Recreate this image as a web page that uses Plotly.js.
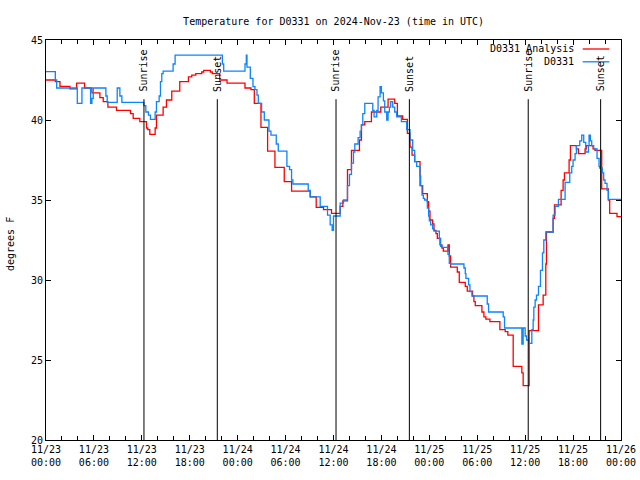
<!DOCTYPE html>
<html>
<head>
<meta charset="utf-8">
<script src="https://cdn.plot.ly/plotly-3.0.1.min.js"></script>
<style>html,body{margin:0;padding:0;background:#fff;}#chart{width:640px;height:480px;}</style>
</head>
<body>
<div id="chart"></div>
<script>
// ---- Data ----
var analysisName = "D0331 Analysis";
var obsName = "D0331";

var analysisTimes = [
"2024-11-23 00:00","2024-11-23 01:10","2024-11-23 01:45","2024-11-23 03:00","2024-11-23 03:50",
"2024-11-23 04:50","2024-11-23 05:45","2024-11-23 06:45","2024-11-23 07:10","2024-11-23 07:45",
"2024-11-23 08:50","2024-11-23 10:35","2024-11-23 10:55","2024-11-23 11:45","2024-11-23 12:35",
"2024-11-23 12:45","2024-11-23 13:00","2024-11-23 13:40","2024-11-23 13:50","2024-11-23 14:40",
"2024-11-23 15:05","2024-11-23 15:45","2024-11-23 16:45","2024-11-23 17:50","2024-11-23 18:15",
"2024-11-23 18:45","2024-11-23 19:30","2024-11-23 19:45","2024-11-23 20:35","2024-11-23 20:50",
"2024-11-23 21:45","2024-11-23 22:40","2024-11-24 00:55","2024-11-24 01:40","2024-11-24 02:05",
"2024-11-24 02:55","2024-11-24 03:45","2024-11-24 04:40","2024-11-24 05:50","2024-11-24 06:45",
"2024-11-24 09:05","2024-11-24 09:50","2024-11-24 10:45","2024-11-24 11:45","2024-11-24 12:50",
"2024-11-24 13:10","2024-11-24 13:45","2024-11-24 14:15","2024-11-24 15:15","2024-11-24 15:30",
"2024-11-24 15:55","2024-11-24 16:45","2024-11-24 17:55","2024-11-24 18:50","2024-11-24 19:40",
"2024-11-24 20:00","2024-11-24 20:40","2024-11-24 21:15","2024-11-24 21:35","2024-11-24 21:50",
"2024-11-24 22:10","2024-11-24 22:50","2024-11-24 23:10","2024-11-24 23:45","2024-11-24 23:55",
"2024-11-25 00:05","2024-11-25 00:25","2024-11-25 00:35","2024-11-25 00:50","2024-11-25 01:00",
"2024-11-25 01:20","2024-11-25 01:35","2024-11-25 01:45","2024-11-25 02:20","2024-11-25 02:30",
"2024-11-25 02:40","2024-11-25 03:30","2024-11-25 03:45","2024-11-25 04:30","2024-11-25 04:45",
"2024-11-25 05:25","2024-11-25 05:35","2024-11-25 05:45","2024-11-25 06:35","2024-11-25 06:50",
"2024-11-25 07:05","2024-11-25 07:35","2024-11-25 08:50","2024-11-25 09:30","2024-11-25 09:50",
"2024-11-25 10:30","2024-11-25 11:35","2024-11-25 11:45","2024-11-25 12:30","2024-11-25 13:40",
"2024-11-25 14:15","2024-11-25 14:35","2024-11-25 14:40","2024-11-25 15:30","2024-11-25 15:40",
"2024-11-25 16:30","2024-11-25 16:45","2024-11-25 16:55","2024-11-25 17:30","2024-11-25 17:40",
"2024-11-25 18:25","2024-11-25 18:40","2024-11-25 19:30","2024-11-25 19:40","2024-11-25 20:30",
"2024-11-25 20:45","2024-11-25 21:35","2024-11-25 22:25","2024-11-25 22:35","2024-11-25 23:30",
"2024-11-26 00:00"
];
var analysisTemps = [
42.5,42.4,42.1,41.95,42.3,
42.0,41.7,41.4,41.15,40.8,
40.6,40.4,40.1,39.9,39.5,
39.4,39.1,39.5,40.3,40.8,
41.25,41.8,42.4,42.7,42.8,
42.9,43.0,43.1,43.0,42.9,
42.5,42.3,42.0,41.9,41.04,
39.54,38.06,37.04,36.15,35.56,
35.2,34.54,34.4,34.17,34.6,
34.94,36.9,38.1,38.75,39.7,
39.9,40.5,40.8,41.3,41.04,
40.25,40.04,39.17,38.3,37.8,
37.4,35.9,35.4,34.9,34.3,
33.75,33.5,33.1,32.9,32.6,
32.2,32.0,31.8,32.2,31.5,
30.8,30.5,29.85,29.6,29.3,
29.0,28.65,28.4,28.0,27.7,
27.56,27.4,26.9,26.77,26.56,
24.6,24.2,23.4,26.83,28.44,
29.06,31.0,33.0,33.85,34.7,
35.6,36.25,36.7,37.5,38.4,
38.2,37.9,38.2,38.4,38.2,
38.1,35.7,35.0,34.17,33.96,
33.96
];

var obsTimes = [
"2024-11-23 00:00","2024-11-23 01:10","2024-11-23 01:20","2024-11-23 03:55","2024-11-23 04:30",
"2024-11-23 05:35","2024-11-23 05:45","2024-11-23 05:55","2024-11-23 07:30","2024-11-23 07:40",
"2024-11-23 08:55","2024-11-23 09:15","2024-11-23 09:30","2024-11-23 12:15","2024-11-23 12:30",
"2024-11-23 12:50","2024-11-23 13:05","2024-11-23 13:40","2024-11-23 13:50","2024-11-23 14:10",
"2024-11-23 14:20","2024-11-23 14:30","2024-11-23 14:40","2024-11-23 15:55","2024-11-23 16:10",
"2024-11-23 22:05","2024-11-23 22:15","2024-11-24 00:55","2024-11-24 01:05","2024-11-24 01:10",
"2024-11-24 01:35","2024-11-24 01:55","2024-11-24 02:10","2024-11-24 02:25","2024-11-24 02:35",
"2024-11-24 03:00","2024-11-24 03:20","2024-11-24 03:55","2024-11-24 04:10","2024-11-24 04:50",
"2024-11-24 05:05","2024-11-24 06:10","2024-11-24 06:30","2024-11-24 06:45","2024-11-24 06:55",
"2024-11-24 08:50","2024-11-24 09:05","2024-11-24 10:20","2024-11-24 11:15","2024-11-24 11:35",
"2024-11-24 11:50","2024-11-24 12:00","2024-11-24 12:50","2024-11-24 13:15","2024-11-24 13:45",
"2024-11-24 14:00","2024-11-24 14:15","2024-11-24 14:30","2024-11-24 14:40","2024-11-24 15:05",
"2024-11-24 15:20","2024-11-24 15:30","2024-11-24 15:40","2024-11-24 15:55","2024-11-24 16:55",
"2024-11-24 17:05","2024-11-24 17:25","2024-11-24 17:35","2024-11-24 17:50","2024-11-24 18:00",
"2024-11-24 18:15","2024-11-24 18:25","2024-11-24 18:40","2024-11-24 18:50","2024-11-24 19:00",
"2024-11-24 19:10","2024-11-24 19:25","2024-11-24 19:40","2024-11-24 19:55","2024-11-24 20:30",
"2024-11-24 21:10","2024-11-24 21:35","2024-11-24 21:55","2024-11-24 22:10","2024-11-24 22:25",
"2024-11-24 22:50","2024-11-24 22:55","2024-11-24 23:05","2024-11-24 23:15","2024-11-24 23:25",
"2024-11-24 23:45","2024-11-24 23:55","2024-11-25 00:00","2024-11-25 00:10","2024-11-25 00:25",
"2024-11-25 00:35","2024-11-25 01:15","2024-11-25 01:25","2024-11-25 01:35","2024-11-25 02:20",
"2024-11-25 02:30","2024-11-25 02:40","2024-11-25 04:20","2024-11-25 04:30","2024-11-25 04:35",
"2024-11-25 04:55","2024-11-25 05:05","2024-11-25 05:20","2024-11-25 07:15","2024-11-25 07:25",
"2024-11-25 09:15","2024-11-25 09:25","2024-11-25 11:35","2024-11-25 11:45","2024-11-25 12:00",
"2024-11-25 12:10","2024-11-25 12:30","2024-11-25 12:50","2024-11-25 13:00","2024-11-25 13:05",
"2024-11-25 13:15","2024-11-25 13:25","2024-11-25 13:40","2024-11-25 13:55","2024-11-25 14:10",
"2024-11-25 14:20","2024-11-25 14:35","2024-11-25 15:30","2024-11-25 15:45","2024-11-25 16:10",
"2024-11-25 17:00","2024-11-25 17:35","2024-11-25 17:50","2024-11-25 18:00","2024-11-25 18:15",
"2024-11-25 18:25","2024-11-25 18:50","2024-11-25 19:05","2024-11-25 19:20","2024-11-25 19:35",
"2024-11-25 19:55","2024-11-25 20:00","2024-11-25 20:10","2024-11-25 20:20","2024-11-25 20:35",
"2024-11-25 21:00","2024-11-25 21:15","2024-11-25 21:20","2024-11-25 21:40","2024-11-25 21:50",
"2024-11-25 22:00","2024-11-25 22:15","2024-11-25 22:25","2024-11-26 00:00"
];
var obsTemps = [
43.02,42.5,42.0,41.04,42.0,
41.04,41.35,42.0,41.5,41.1,
42.0,41.5,41.1,40.9,40.5,
40.3,40.04,40.5,41.15,41.5,
42.4,42.9,43.06,43.5,44.06,
43.5,43.06,43.5,44.06,43.3,
42.6,42.08,41.9,41.56,41.04,
40.5,40.0,39.3,39.06,38.5,
38.06,37.1,36.9,36.25,36.0,
35.6,35.2,34.6,34.06,33.44,
33.1,34.0,34.8,35.0,35.9,
36.6,37.3,38.0,38.5,38.9,
39.3,39.7,40.4,41.04,40.6,
40.2,40.6,41.45,42.08,41.7,
41.2,40.5,40.0,40.5,40.8,
41.15,40.8,40.5,40.2,39.9,
39.4,38.75,38.1,37.4,37.1,
36.5,35.9,35.3,35.1,35.0,
34.5,34.0,33.7,33.44,33.2,
33.06,32.6,32.1,32.04,31.6,
31.04,31.0,30.75,30.4,30.1,
29.7,29.27,29.0,28.5,28.0,
27.7,27.0,26.0,27.0,26.5,
26.25,26.04,26.9,27.5,28.3,
28.75,29.06,29.6,30.6,31.7,
32.5,33.0,34.06,34.6,35.04,
36.1,36.7,37.1,37.5,37.9,
38.4,38.7,39.06,38.6,38.0,
38.4,39.06,38.7,38.4,38.2,
37.6,37.1,37.0,36.7,36.25,
36.04,35.6,35.04,35.04
];

var sunTimes = ["2024-11-23 12:16","2024-11-23 21:27","2024-11-24 12:19","2024-11-24 21:30","2024-11-25 12:23","2024-11-25 21:27"];
var sunLabels = ["Sunrise","Sunset","Sunrise","Sunset","Sunrise","Sunset"];

var titleText = "Temperature for D0331 on 2024-Nov-23 (time in UTC)";
var yTitle = "degrees F";
var xRange = ["2024-11-23 00:00","2024-11-26 00:00"];
var yRange = [20, 45];

// ---- Chart ----
var FONT = "DejaVu Sans Mono, Liberation Mono, monospace";
var RED = "#ff0000", BLUE = "#0a84ff";

var traces = [
  {x: analysisTimes, y: analysisTemps, type: "scatter", mode: "lines", name: analysisName,
   line: {color: RED, width: 1.3, shape: "hv"}, showlegend: false},
  {x: obsTimes, y: obsTemps, type: "scatter", mode: "lines", name: obsName,
   line: {color: BLUE, width: 1.3, shape: "hv"}, showlegend: false}
];

var shapes = [];
var annotations = [];
for (var i = 0; i < sunTimes.length; i++) {
  shapes.push({type: "line", xref: "x", yref: "y", x0: sunTimes[i], x1: sunTimes[i],
    y0: 20, y1: 41.3, line: {color: "#000", width: 1}});
  annotations.push({xref: "x", yref: "y", x: sunTimes[i], y: 41.65, text: sunLabels[i],
    textangle: -90, showarrow: false, xanchor: "center", yanchor: "bottom",
    font: {family: FONT, size: 10, color: "#000"}});
}
// legend (gnuplot style: text then sample line)
var legendRows = [[analysisName, RED, 0.9775], [obsName, BLUE, 0.9455]];
legendRows.forEach(function (r) {
  annotations.push({xref: "paper", yref: "paper", x: 0.921, y: r[2], text: r[0],
    showarrow: false, xanchor: "right", yanchor: "middle",
    font: {family: FONT, size: 10, color: "#000"}});
  shapes.push({type: "line", xref: "paper", yref: "paper", x0: 0.9334, x1: 0.9797,
    y0: r[2], y1: r[2], line: {color: r[1], width: 1.3}});
});
annotations.push({xref: "paper", yref: "paper", x: -0.0626, y: 0.49, text: yTitle,
  textangle: -90, showarrow: false, xanchor: "center", yanchor: "middle",
  font: {family: FONT, size: 10, color: "#000"}});

var layout = {
  width: 640, height: 480,
  margin: {l: 46, r: 19, t: 40, b: 40, pad: 0},
  paper_bgcolor: "#fff", plot_bgcolor: "#fff",
  font: {family: FONT, size: 10, color: "#000"},
  title: {text: titleText, x: 0.5213, xanchor: "center", y: 1 - 21 / 480, yanchor: "middle",
    xref: "container", yref: "container", font: {family: FONT, size: 10, color: "#000"}},
  showlegend: false,
  xaxis: {
    type: "date", range: xRange, showgrid: false, zeroline: false,
    showline: true, linecolor: "#000", linewidth: 1, mirror: "allticks",
    ticks: "inside", ticklen: 5, tickcolor: "#000", tickwidth: 1,
    dtick: 21600000, tick0: "2024-11-23 00:00", tickformat: "%m/%d<br>%H:%M",
    tickfont: {family: FONT, size: 10, color: "#000"},
    minor: {dtick: 7200000, ticks: "inside", ticklen: 4, tickcolor: "#000", tickwidth: 1, showgrid: false}
  },
  yaxis: {
    range: yRange, dtick: 5, showgrid: false, zeroline: false,
    showline: true, linecolor: "#000", linewidth: 1, mirror: "allticks",
    ticks: "inside", ticklen: 5, tickcolor: "#000", tickwidth: 1,
    tickfont: {family: FONT, size: 10, color: "#000"}
  },
  shapes: shapes,
  annotations: annotations
};

Plotly.newPlot("chart", traces, layout, {staticPlot: true, displayModeBar: false});
</script>
</body>
</html>
